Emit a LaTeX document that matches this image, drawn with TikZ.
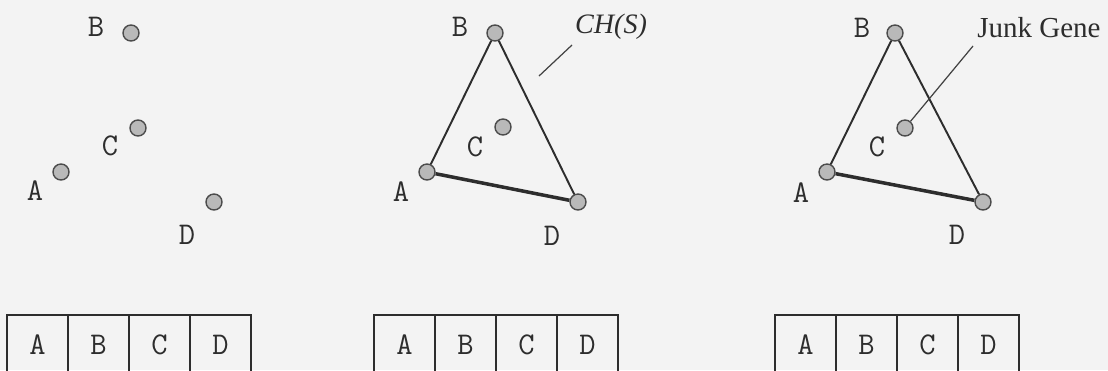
\documentclass[tikz,border=0pt]{standalone}
\usepackage{fontspec}
\setmainfont{Liberation Serif}
\usetikzlibrary{positioning}
\definecolor{paper}{RGB}{243,243,243}
\definecolor{dotgray}{RGB}{185,185,185}
\definecolor{ink}{RGB}{45,45,45}

\begin{document}
\begin{tikzpicture}[
  x=0.02cm, y=-0.02cm,
  pt/.style={circle, draw=ink!85, fill=dotgray, line width=0.8pt, minimum size=0.32cm, inner sep=0pt},
  lbl/.style={font=\ttfamily\fontsize{18}{20}\selectfont, text=ink, inner sep=0pt},
  note/.style={font=\fontsize{16}{18}\selectfont, text=ink, inner sep=0pt},
  hull/.style={draw=ink, line width=1.1pt},
  base/.style={draw=ink, line width=2pt},
  leader/.style={draw=ink!90, line width=0.7pt},
  cell/.style={draw=ink, line width=0.7pt, minimum width=1.22cm, minimum height=1.2cm, outer sep=0pt, inner sep=0pt, font=\ttfamily\fontsize{18}{20}\selectfont, text=ink}
]

\useasboundingbox (0,0) rectangle (1108,370);
\clip (0,0) rectangle (1108,370);
\fill[paper] (0,0) rectangle (1108,370);

% the four points
\node[pt] (p1a) at (61,172) {};
\node[pt] (p1b) at (131,33) {};
\node[pt] (p1c) at (138,128) {};
\node[pt] (p1d) at (214,202) {};
\node[lbl] at (35,191) {A};
\node[lbl] at (96,27) {B};
\node[lbl] at (110,146) {C};
\node[lbl] at (187,235) {D};

% convex hull
\node[pt] (p2a) at (427,172) {};
\node[pt] (p2b) at (495,33) {};
\node[pt] (p2c) at (503,127) {};
\node[pt] (p2d) at (578,202) {};
\draw[hull] (p2a) -- (p2b) -- (p2d);
\draw[base] (p2a) -- (p2d);
\node[lbl] at (401,192) {A};
\node[lbl] at (460,27) {B};
\node[lbl] at (475,147) {C};
\node[lbl] at (552,236) {D};
\node[note, font=\itshape\fontsize{16}{18}\selectfont] (chs) at (611,27) {CH(S)};
\coordinate (chfoot) at (572,45);
\coordinate (chtip) at (539,76);
\draw[leader] (chfoot) -- (chtip);

% junk gene inside the hull
\node[pt] (p3a) at (827,172) {};
\node[pt] (p3b) at (895,33) {};
\node[pt] (p3c) at (905,128) {};
\node[pt] (p3d) at (983,202) {};
\draw[hull] (p3a) -- (p3b) -- (p3d);
\draw[base] (p3a) -- (p3d);
\node[lbl] at (801,193) {A};
\node[lbl] at (862,28) {B};
\node[lbl] at (877,147) {C};
\node[lbl] at (957,235) {D};
\node[note, anchor=west, font=\fontsize{16.5}{18}\selectfont] (junk) at (977,28) {Junk Gene};
\coordinate (junkfoot) at (973,46);
\draw[leader] (junkfoot) -- (p3c);

% chromosomes
\node[cell, anchor=north west] (g1a) at (7,315) {A};
\node[cell, right=0pt of g1a] (g1b) {B};
\node[cell, right=0pt of g1b] (g1c) {C};
\node[cell, right=0pt of g1c] (g1d) {D};

\node[cell, anchor=north west] (g2a) at (374,315) {A};
\node[cell, right=0pt of g2a] (g2b) {B};
\node[cell, right=0pt of g2b] (g2c) {C};
\node[cell, right=0pt of g2c] (g2d) {D};

\node[cell, anchor=north west] (g3a) at (775,315) {A};
\node[cell, right=0pt of g3a] (g3b) {B};
\node[cell, right=0pt of g3b] (g3c) {C};
\node[cell, right=0pt of g3c] (g3d) {D};

\end{tikzpicture}
\end{document}
